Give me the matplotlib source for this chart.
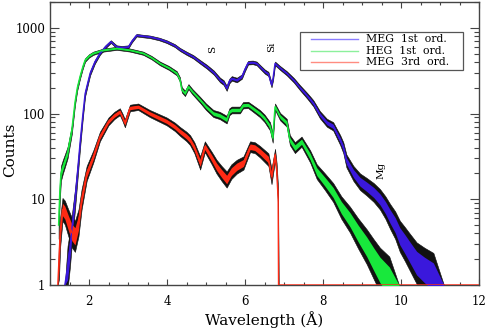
import numpy as np
import matplotlib
matplotlib.use("Agg")
import matplotlib.pyplot as plt
from matplotlib.ticker import MultipleLocator, LogLocator, FixedLocator, FixedFormatter, NullFormatter
from matplotlib.patches import Rectangle

# ---------------- data ----------------
meg1_wl = [1.38, 1.45, 1.51, 1.58, 1.64, 1.71, 1.77, 1.84, 1.90, 1.97, 2.03, 2.15, 2.28, 2.42,
           2.56, 2.64, 2.71, 2.84, 3.01, 3.10, 3.22, 3.40, 3.56, 3.80, 3.99, 4.20, 4.33, 4.50,
           4.67, 4.85, 5.02, 5.20, 5.36, 5.45, 5.53, 5.60, 5.66, 5.79, 5.92, 6.00, 6.08, 6.20,
           6.30, 6.40, 6.51, 6.60, 6.68, 6.72, 6.77, 6.90, 7.07, 7.25, 7.41, 7.60, 7.75, 7.92,
           8.10, 8.26, 8.44, 8.52, 8.60, 8.78, 8.95, 9.12, 9.30, 9.46, 9.60, 9.72, 9.85, 9.97,
           10.10, 10.23, 10.40, 10.60, 10.83, 11.10]
meg1_ct = [1.0, 1.6, 2.6, 5.5, 9.9, 22, 45, 95, 170, 230, 296, 400, 505, 600,
           690, 640, 600, 590, 600, 700, 820, 800, 785, 740, 690, 620, 560, 505,
           460, 400, 352, 300, 246, 230, 197, 240, 257, 246, 270, 330, 392, 395,
           384, 345, 308, 290, 216, 260, 384, 340, 295, 245, 200, 160, 132, 97,
           78, 71, 49, 40, 28, 20, 16, 14, 12, 10, 8, 6.3, 5, 3.7,
           3.0, 2.4, 1.8, 1.5, 1.25, 1.0]

heg1_wl = [1.22, 1.25, 1.28, 1.33, 1.38, 1.45, 1.51, 1.56, 1.64, 1.70, 1.77, 1.84, 1.90, 2.00,
           2.11, 2.37, 2.71, 3.05, 3.20, 3.39, 3.60, 3.82, 4.05, 4.25, 4.33, 4.38, 4.46, 4.55,
           4.65, 4.85, 5.00, 5.19, 5.35, 5.53, 5.60, 5.66, 5.87, 5.95, 6.08, 6.20, 6.38, 6.50,
           6.64, 6.71, 6.77, 6.90, 7.07, 7.15, 7.28, 7.45, 7.67, 7.84, 8.05, 8.26, 8.47, 8.69,
           8.90, 9.12, 9.30, 9.46, 9.70, 9.95]
heg1_ct = [5, 12, 20, 24, 28, 35, 49, 65, 135, 200, 270, 350, 421, 470,
           505, 550, 576, 550, 530, 505, 450, 384, 340, 295, 250, 189, 172, 206,
           180, 144, 120, 100, 95, 85, 105, 110, 110, 125, 126, 115, 100, 88,
           71, 52, 120, 92, 78, 49, 40, 47, 31.6, 21, 16, 12, 8, 5.8,
           4, 2.8, 2.0, 1.5, 1.1, 1.0]

meg3_wl = [1.20, 1.23, 1.26, 1.32, 1.38, 1.47, 1.56, 1.64, 1.73, 1.81, 1.94, 2.11, 2.28, 2.50,
           2.65, 2.79, 2.86, 2.92, 3.05, 3.26, 3.56, 3.99, 4.20, 4.33, 4.50, 4.59, 4.70, 4.85,
           4.97, 5.15, 5.27, 5.40, 5.53, 5.65, 5.79, 5.96, 6.13, 6.25, 6.38, 6.60, 6.68, 6.77,
           6.81, 6.85, 6.86, 12.0]
meg3_ct = [1.0, 2.0, 4.1, 7.6, 7.0, 5.3, 4.1, 3.7, 5.3, 10, 20, 31.6, 54, 81,
           95, 105, 90, 77, 116, 120, 100, 81, 70, 62, 54, 49, 40, 26.5,
           41, 30, 24, 20, 17, 21, 24, 26.5, 41, 40, 36, 29, 18.5, 33,
           22, 10, 1.0, 1.0]

labels = ["MEG  1st  ord.", "HEG  1st  ord.", "MEG  3rd  ord."]
colors = ["#3a18dc", "#18e83c", "#ff2a14"]
legend_colors = ["#8a7cff", "#8cf09c", "#ff8c80"]

xticks = [2, 4, 6, 8, 10, 12]
yticks = [1, 10, 100, 1000]
ytick_labels = ["1", "10", "100", "1000"]

notes = [("S", 5.18, 560), ("Si", 6.68, 600), ("Mg", 9.50, 22)]

# ---------------- figure ----------------
plt.rcParams["font.family"] = ["DejaVu Serif"]
fig = plt.figure(figsize=(4.97, 3.31), dpi=100)
ax = fig.add_axes([50 / 497, 1 - 285 / 331, 429 / 497, 283 / 331])
ax.set_yscale("log")
ax.set_xlim(1, 12)
ax.set_ylim(1, 2000)

series = [(meg1_wl, meg1_ct), (heg1_wl, heg1_ct), (meg3_wl, meg3_ct)]
for (wl, ct), col in zip(series, colors):
    wl = np.asarray(wl, float)
    ct = np.asarray(ct, float)
    rel = 1.0 / np.sqrt(ct)              # Poisson-like relative scatter
    on = ct > 1.0
    f_blk = np.where(on, 1 + 1.0 * rel, 1.0)
    f_col = np.where(on, 1 + 0.5 * rel, 1.0)
    ax.fill_between(wl, ct / f_blk, ct * f_blk, color="#111111", lw=0.4, zorder=2)
    ax.fill_between(wl, ct / f_col, ct * f_col, color=col, lw=0, zorder=3)
    ax.plot(wl, ct, color=col, lw=1.0, zorder=4)

for txt, xv, yv in notes:
    ax.text(xv, yv, txt, rotation=90, fontsize=7.5, ha="center", va="center", zorder=6)

# axes styling
for sp in ax.spines.values():
    sp.set_color("#444444")
    sp.set_linewidth(1.0)
ax.xaxis.set_major_locator(FixedLocator(xticks))
ax.xaxis.set_minor_locator(MultipleLocator(0.5))
ax.yaxis.set_major_locator(FixedLocator(yticks))
ax.yaxis.set_major_formatter(FixedFormatter(ytick_labels))
ax.yaxis.set_minor_locator(LogLocator(base=10, subs=np.arange(2, 10)))
ax.yaxis.set_minor_formatter(NullFormatter())
ax.tick_params(axis="x", which="major", direction="in", length=4, width=0.8, color="#444444",
               top=True, bottom=True, pad=7, labelsize=8.5)
ax.tick_params(axis="x", which="minor", direction="in", length=2.2, width=0.8, color="#444444",
               top=True, bottom=True)
ax.tick_params(axis="y", which="major", direction="in", length=6.5, width=0.8, color="#444444",
               left=True, right=True, pad=3.5, labelsize=8.5)
ax.tick_params(axis="y", which="minor", direction="in", length=3.8, width=0.8, color="#444444",
               left=True, right=True)

ax.set_xlabel("Wavelength (Å)", fontsize=11)
ax.xaxis.set_label_coords(214 / 429, -(311 - 285) / 283)
ax.set_ylabel("Counts", fontsize=11)
ax.yaxis.set_label_coords(-(50 - 17) / 429, (285 - 150) / 283)

# legend box drawn manually
ax.add_patch(Rectangle((0.583, 0.760), 0.380, 0.135, transform=ax.transAxes,
                       facecolor="white", edgecolor="#555555", lw=0.9, zorder=7))
rows = [0.869, 0.828, 0.789]
for lab, lc, yy in zip(labels, legend_colors, rows):
    ax.plot([0.608, 0.718], [yy, yy], transform=ax.transAxes, color=lc, lw=1.0, zorder=8)
    ax.text(0.736, yy, lab, transform=ax.transAxes, fontsize=7.8, va="center", ha="left", zorder=8)

fig.savefig("out.png", dpi=100)
